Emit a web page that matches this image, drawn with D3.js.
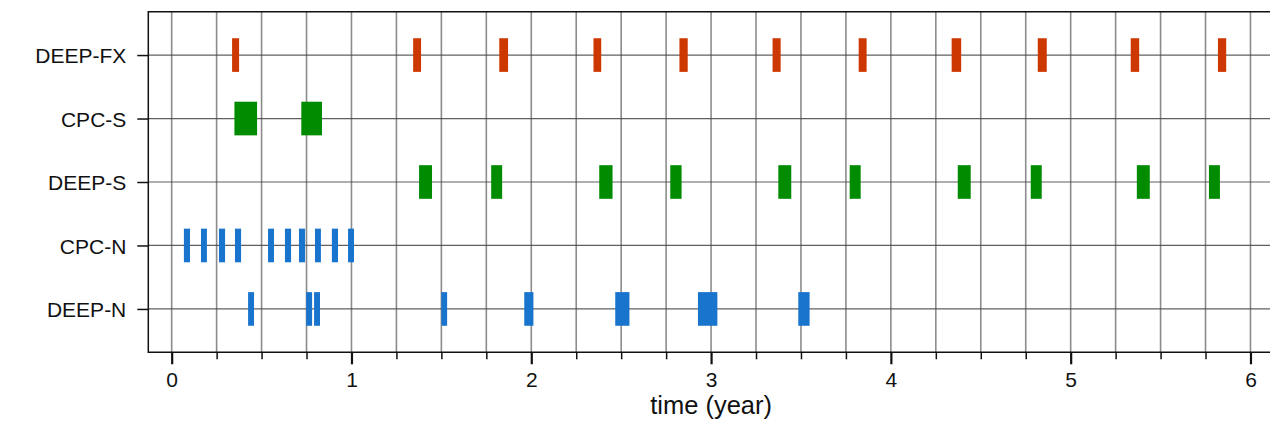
<!DOCTYPE html>
<html>
<head>
<meta charset="utf-8">
<script src="https://cdn.jsdelivr.net/npm/d3@7"></script>
<style>
  html, body { margin: 0; padding: 0; background: #fff; }
  svg { display: block; font-family: "Liberation Sans", Arial, Helvetica, sans-serif; }
</style>
</head>
<body>
<svg id="chart" width="1270" height="425"></svg>
<script>
// Observation campaigns, top to bottom
const categories = ["DEEP-FX", "CPC-S", "DEEP-S", "CPC-N", "DEEP-N"];

// Each campaign is a list of [start, end] intervals in years
const deepFx = [
  [0.336, 0.375], [1.343, 1.387], [1.822, 1.871], [2.346, 2.389], [2.824, 2.870],
  [3.342, 3.387], [3.821, 3.865], [4.338, 4.391], [4.817, 4.867], [5.334, 5.381],
  [5.819, 5.865]
];
const cpcS = [[0.349, 0.475], [0.721, 0.836]];
const deepS = [
  [1.376, 1.448], [1.777, 1.838], [2.378, 2.452], [2.773, 2.836], [3.374, 3.446],
  [3.771, 3.832], [4.372, 4.444], [4.778, 4.839], [5.368, 5.440], [5.769, 5.830]
];
const cpcN = [
  [0.068, 0.102], [0.163, 0.196], [0.263, 0.297], [0.352, 0.386], [0.536, 0.569],
  [0.630, 0.664], [0.708, 0.742], [0.797, 0.830], [0.891, 0.925], [0.981, 1.014]
];
const deepN = [
  [0.425, 0.458], [0.748, 0.781], [0.792, 0.825], [1.500, 1.532], [1.961, 2.012],
  [2.467, 2.546], [2.927, 3.035], [3.485, 3.548]
];

const seriesIntervals = [deepFx, cpcS, deepS, cpcN, deepN];
const seriesColors = ["#CD3700", "#008B00", "#008B00", "#1874CD", "#1874CD"];

// Axis ticks
const majorTicks = [0, 1, 2, 3, 4, 5, 6];
const minorTicks = d3.range(0, 6.01, 0.25).filter(v => !majorTicks.includes(v));
const gridTicks = d3.range(0, 6.01, 0.25);
const xTitle = "time (year)";

const svg = d3.select("#chart");
const plotLeft = 148.3, plotTop = 11.7, plotBottom = 352.3;
const pxPerYear = 179.8;

const x = d3.scaleLinear()
  .domain([-0.13, 6.13])
  .range([plotLeft, plotLeft + 6.26 * pxPerYear]);

const y = d3.scalePoint()
  .domain(categories)
  .range([plotTop, plotBottom])
  .padding(0.683);

const barH = y.step() * 0.53;

// Grid
const grid = svg.append("g");
grid.selectAll("line.v")
  .data(gridTicks)
  .join("line")
  .attr("class", "v")
  .attr("x1", d => x(d)).attr("x2", d => x(d))
  .attr("y1", plotTop).attr("y2", plotBottom)
  .attr("stroke", "#666").attr("stroke-opacity", 0.75).attr("stroke-width", 1.6);
grid.selectAll("line.h")
  .data(categories)
  .join("line")
  .attr("class", "h")
  .attr("x1", plotLeft).attr("x2", 1270)
  .attr("y1", d => y(d)).attr("y2", d => y(d))
  .attr("stroke", "#444").attr("stroke-opacity", 0.85).attr("stroke-width", 1.2);

// Interval bars
const rows = categories.map((c, i) => ({ cat: c, intervals: seriesIntervals[i], color: seriesColors[i] }));
svg.append("g")
  .selectAll("g")
  .data(rows)
  .join("g")
  .attr("fill", d => d.color)
  .selectAll("rect")
  .data(d => d.intervals.map(iv => ({ cat: d.cat, s: iv[0], e: iv[1] })))
  .join("rect")
  .attr("x", d => x(d.s))
  .attr("width", d => x(d.e) - x(d.s))
  .attr("y", d => y(d.cat) - barH / 2)
  .attr("height", barH);

// Frame (left, top, bottom)
svg.append("path")
  .attr("d", `M1270,${plotTop}H${plotLeft}V${plotBottom}H1270`)
  .attr("fill", "none").attr("stroke", "#111").attr("stroke-width", 1.5);

// X axis: minor then major ticks
svg.append("g")
  .attr("transform", `translate(0,${plotBottom})`)
  .call(d3.axisBottom(x).tickValues(minorTicks).tickSize(7).tickFormat(""))
  .call(g => g.select(".domain").remove())
  .call(g => g.selectAll(".tick line").attr("stroke", "#111").attr("stroke-width", 1.5));

svg.append("g")
  .attr("transform", `translate(0,${plotBottom})`)
  .call(d3.axisBottom(x).tickValues(majorTicks).tickSize(12).tickPadding(8).tickFormat(d3.format("d")))
  .call(g => g.select(".domain").remove())
  .call(g => g.selectAll(".tick line").attr("stroke", "#111").attr("stroke-width", 2.2))
  .call(g => g.selectAll(".tick text")
    .attr("fill", "#111").attr("font-size", 21)
    .attr("font-family", "Liberation Sans, Arial, sans-serif")
    .attr("dy", null).attr("y", 34.3));

// Y axis
svg.append("g")
  .attr("transform", `translate(${plotLeft},0)`)
  .call(d3.axisLeft(y).tickSize(11).tickPadding(11))
  .call(g => g.select(".domain").remove())
  .call(g => g.selectAll(".tick line").attr("stroke", "#111").attr("stroke-width", 1.5))
  .call(g => g.selectAll(".tick text")
    .attr("fill", "#111").attr("font-size", 21)
    .attr("font-family", "Liberation Sans, Arial, sans-serif")
    .attr("dy", null).attr("y", 7.6));

// X axis title
svg.append("text")
  .attr("x", x(3))
  .attr("y", 414)
  .attr("text-anchor", "middle")
  .attr("font-size", 25.5)
  .attr("fill", "#111")
  .text(xTitle);
</script>
</body>
</html>
